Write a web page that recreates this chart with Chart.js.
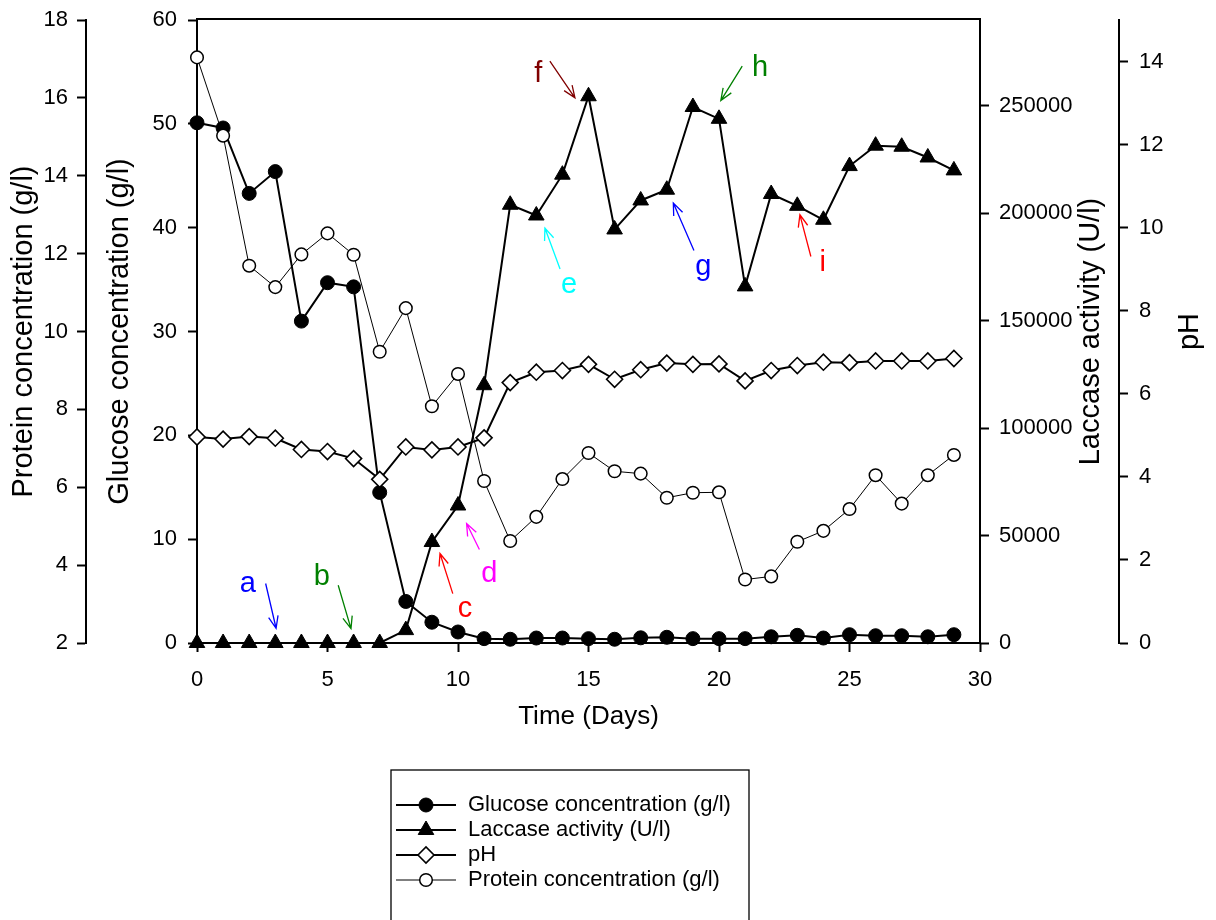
<!DOCTYPE html>
<html>
<head>
<meta charset="utf-8">
<title>Glucose, laccase, pH and protein over time</title>
<script src="https://cdn.jsdelivr.net/npm/chart.js@4.4.1/dist/chart.umd.min.js"></script>
<style>
  html, body { margin: 0; padding: 0; background: #ffffff; }
  canvas { display: block; }
</style>
</head>
<body>
<canvas id="chart" width="1216" height="920"></canvas>
<script>
// Sampling days
const days = [0, 1, 2, 3, 4, 5, 6, 7, 8, 9, 10, 11, 12, 13, 14, 15, 16, 17, 18, 19, 20, 21, 22, 23, 24, 25, 26, 27, 28, 29];

// Glucose concentration (g/l)
const glucose = [50.1, 49.6, 43.3, 45.4, 31.0, 34.7, 34.3, 14.5, 4.0, 2.0, 1.06, 0.42, 0.36, 0.48, 0.48,
                 0.42, 0.36, 0.5, 0.55, 0.42, 0.42, 0.42, 0.6, 0.74, 0.48, 0.8, 0.7, 0.7, 0.6, 0.8];

// Laccase activity (U/l)
const laccase = [0, 0, 0, 0, 0, 0, 0, 0, 6000, 47000, 64000, 120000, 204000, 199000, 218000,
                 254500, 192500, 206000, 211000, 249500, 244000, 166000, 209000, 203500, 197000,
                 222000, 231500, 231000, 226000, 220000];

// pH
const ph = [4.96, 4.91, 4.97, 4.93, 4.66, 4.61, 4.44, 3.94, 4.72, 4.65, 4.72, 4.94, 6.27, 6.52, 6.56,
            6.71, 6.35, 6.58, 6.74, 6.71, 6.72, 6.31, 6.56, 6.68, 6.76, 6.75, 6.79, 6.79, 6.79, 6.85];

// Protein concentration (g/l)
const protein = [17.04, 15.03, 11.69, 11.14, 11.98, 12.52, 11.97, 9.48, 10.6, 8.08, 8.91, 6.16, 4.62, 5.24, 6.21,
                 6.88, 6.41, 6.35, 5.73, 5.86, 5.87, 3.63, 3.71, 4.6, 4.88, 5.44, 6.31, 5.58, 6.31, 6.83];

// Tick values for each axis
const dayTicks = [0, 5, 10, 15, 20, 25, 30];
const glucoseTicks = [0, 10, 20, 30, 40, 50, 60];
const proteinTicks = [2, 4, 6, 8, 10, 12, 14, 16, 18];
const laccaseTicks = [0, 50000, 100000, 150000, 200000, 250000];
const phTicks = [0, 2, 4, 6, 8, 10, 12, 14];

// Lettered arrows, placed in (day, glucose g/l) coordinates
const notes = [
  { t: 'a', color: '#0000ff', at: [1.95, 4.89],   from: [2.63, 5.73],   to: [3.03, 1.42] },
  { t: 'b', color: '#008000', at: [4.78, 5.56],   from: [5.41, 5.56],   to: [5.90, 1.39] },
  { t: 'c', color: '#ff0000', at: [10.27, 2.53],  from: [9.80, 4.76],   to: [9.31, 8.62] },
  { t: 'd', color: '#ff00ff', at: [11.20, 5.90],  from: [10.82, 9.01],  to: [10.33, 11.51] },
  { t: 'e', color: '#00ffff', at: [14.26, 33.72], from: [13.91, 36.01], to: [13.33, 39.96] },
  { t: 'f', color: '#800000', at: [13.08, 54.02], from: [13.52, 56.03], to: [14.48, 52.50] },
  { t: 'g', color: '#0000ff', at: [19.40, 35.46], from: [19.04, 37.80], to: [18.25, 42.37] },
  { t: 'h', color: '#008000', at: [21.57, 54.60], from: [20.89, 55.55], to: [20.07, 52.24] },
  { t: 'i', color: '#ff0000', at: [23.97, 35.80], from: [23.52, 37.22], to: [23.10, 41.24] }
];

const FONT = '"Liberation Sans", Arial, Helvetica, sans-serif';
Chart.defaults.font.family = FONT;
Chart.defaults.color = '#000000';

const series = vals => days.map((d, i) => ({ x: d, y: vals[i] }));
const useTicks = values => scale => { scale.ticks = values.map(v => ({ value: v })); };
const plain = v => String(v);
// Fixed axis box width; end labels may overhang the plotting area
const fixWidth = w => s => { s.width = w; s.paddingTop = 0; s.paddingBottom = 0; };

const axisBorder = { color: '#000000', width: 2 };
const axisGrid = { drawOnChartArea: false, drawTicks: true, tickLength: 9, tickWidth: 2, tickColor: '#000000' };
const tickFont = { size: 22 };

// Top edge of the plotting frame
const frameTop = {
  id: 'frameTop',
  beforeDatasetsDraw(chart) {
    const { ctx, chartArea } = chart;
    ctx.save();
    ctx.strokeStyle = '#000000';
    ctx.lineWidth = 2;
    ctx.beginPath();
    ctx.moveTo(chartArea.left - 1, chartArea.top - 1);
    ctx.lineTo(chartArea.right + 1, chartArea.top - 1);
    ctx.stroke();
    ctx.restore();
  }
};

// Right-hand axis titles, read bottom to top
const sideTitles = {
  id: 'sideTitles',
  afterDraw(chart, args, opts) {
    const ctx = chart.ctx;
    for (const item of opts.items) {
      const s = chart.scales[item.scale];
      ctx.save();
      ctx.translate(s.left + item.offset, (s.top + s.bottom) / 2);
      ctx.rotate(-Math.PI / 2);
      ctx.font = '29px ' + FONT;
      ctx.fillStyle = '#000000';
      ctx.textAlign = 'center';
      ctx.textBaseline = 'middle';
      ctx.fillText(s.options.title.text, 0, 0);
      ctx.restore();
    }
  }
};

// Lettered arrows
const letterArrows = {
  id: 'letterArrows',
  afterDatasetsDraw(chart, args, opts) {
    const ctx = chart.ctx;
    const sx = chart.scales.x, sy = chart.scales.yG;
    const px = p => [sx.getPixelForValue(p[0]), sy.getPixelForValue(p[1])];
    for (const n of opts.notes) {
      const [tx, ty] = px(n.at);
      const [x0, y0] = px(n.from);
      const [x1, y1] = px(n.to);
      ctx.save();
      ctx.strokeStyle = n.color;
      ctx.fillStyle = n.color;
      ctx.lineWidth = 1.3;
      ctx.beginPath();
      ctx.moveTo(x0, y0);
      ctx.lineTo(x1, y1);
      const ang = Math.atan2(y1 - y0, x1 - x0);
      const len = 13, spread = 0.38;
      ctx.moveTo(x1 - len * Math.cos(ang - spread), y1 - len * Math.sin(ang - spread));
      ctx.lineTo(x1, y1);
      ctx.lineTo(x1 - len * Math.cos(ang + spread), y1 - len * Math.sin(ang + spread));
      ctx.stroke();
      ctx.font = '29px ' + FONT;
      ctx.textAlign = 'center';
      ctx.textBaseline = 'alphabetic';
      ctx.fillText(n.t, tx, ty);
      ctx.restore();
    }
  }
};

// Boxed legend with line-and-marker samples
const boxLegend = {
  id: 'boxLegend',
  afterDraw(chart, args, opts) {
    const ctx = chart.ctx;
    ctx.save();
    ctx.strokeStyle = '#000000';
    ctx.lineWidth = 1.3;
    ctx.strokeRect(opts.left, opts.top, opts.width, opts.height);
    chart.data.datasets.forEach((ds, i) => {
      const y = opts.top + opts.firstRow + i * opts.rowGap;
      const x0 = opts.left + opts.lineStart, x1 = x0 + opts.lineLength;
      ctx.strokeStyle = ds.borderColor;
      ctx.lineWidth = ds.borderWidth;
      ctx.beginPath();
      ctx.moveTo(x0, y);
      ctx.lineTo(x1, y);
      ctx.stroke();
      ctx.fillStyle = ds.pointBackgroundColor;
      ctx.strokeStyle = ds.pointBorderColor;
      ctx.lineWidth = ds.pointBorderWidth;
      Chart.helpers.drawPoint(ctx, {
        pointStyle: ds.pointStyle, radius: ds.pointRadius, rotation: 0, borderWidth: ds.pointBorderWidth
      }, (x0 + x1) / 2, y);
      ctx.fillStyle = '#000000';
      ctx.font = '22px ' + FONT;
      ctx.textAlign = 'left';
      ctx.textBaseline = 'middle';
      ctx.fillText(ds.label, opts.left + opts.textStart, y);
    });
    ctx.restore();
  }
};

new Chart(document.getElementById('chart'), {
  type: 'line',
  data: {
    datasets: [
      {
        label: 'Glucose concentration (g/l)', data: series(glucose), yAxisID: 'yG', order: 3,
        borderColor: '#000000', borderWidth: 2, pointStyle: 'circle', pointRadius: 7,
        pointBackgroundColor: '#000000', pointBorderColor: '#000000', pointBorderWidth: 1, clip: false
      },
      {
        label: 'Laccase activity (U/l)', data: series(laccase), yAxisID: 'yL', order: 2,
        borderColor: '#000000', borderWidth: 2, pointStyle: 'triangle', pointRadius: 9,
        pointBackgroundColor: '#000000', pointBorderColor: '#000000', pointBorderWidth: 1, clip: false
      },
      {
        label: 'pH', data: series(ph), yAxisID: 'yH', order: 1,
        borderColor: '#000000', borderWidth: 2, pointStyle: 'rectRot', pointRadius: 8,
        pointBackgroundColor: '#ffffff', pointBorderColor: '#000000', pointBorderWidth: 1.6, clip: false
      },
      {
        label: 'Protein concentration (g/l)', data: series(protein), yAxisID: 'yP', order: 0,
        borderColor: '#000000', borderWidth: 1, pointStyle: 'circle', pointRadius: 6.3,
        pointBackgroundColor: '#ffffff', pointBorderColor: '#000000', pointBorderWidth: 1.5, clip: false
      }
    ]
  },
  options: {
    responsive: false,
    animation: false,
    events: [],
    layout: { padding: { top: 20, left: 0, right: 0, bottom: 188 } },
    elements: { line: { tension: 0 } },
    plugins: {
      legend: { display: false },
      tooltip: { enabled: false },
      sideTitles: { items: [{ scale: 'yL', offset: 111 }, { scale: 'yH', offset: 71 }] },
      letterArrows: { notes: notes },
      boxLegend: { left: 391, top: 770, width: 358, height: 170, firstRow: 35, rowGap: 25,
                   lineStart: 5, lineLength: 60, textStart: 77 }
    },
    scales: {
      x: {
        type: 'linear', position: 'bottom', min: 0, max: 30,
        afterBuildTicks: useTicks(dayTicks),
        afterFit: s => { s.height = 89; },
        border: axisBorder, grid: axisGrid,
        ticks: { font: tickFont, padding: 15, callback: plain, maxRotation: 0, autoSkip: false },
        title: { display: true, text: 'Time (Days)', font: { size: 26 }, padding: 0 }
      },
      yP: {
        type: 'linear', position: 'left', weight: 1, min: 2, max: 18,
        afterBuildTicks: useTicks(proteinTicks),
        afterFit: fixWidth(86),
        border: axisBorder, grid: axisGrid,
        ticks: { font: tickFont, padding: 9, callback: plain },
        title: { display: true, text: 'Protein concentration (g/l)', font: { size: 29 }, padding: { top: 7, bottom: 0 } }
      },
      yG: {
        type: 'linear', position: 'left', weight: 0, min: 0, max: 60,
        afterBuildTicks: useTicks(glucoseTicks),
        afterFit: fixWidth(111),
        border: axisBorder, grid: axisGrid,
        ticks: { font: tickFont, padding: 11, callback: plain },
        title: { display: true, text: 'Glucose concentration (g/l)', font: { size: 29 }, padding: { top: 17, bottom: 0 } }
      },
      yL: {
        type: 'linear', position: 'right', weight: 0, min: 0, max: 290000,
        afterBuildTicks: useTicks(laccaseTicks),
        afterFit: fixWidth(139),
        border: axisBorder, grid: axisGrid,
        ticks: { font: tickFont, padding: 10, callback: plain },
        title: { display: false, text: 'Laccase activity (U/l)' }
      },
      yH: {
        type: 'linear', position: 'right', weight: 1, min: 0, max: 15,
        afterBuildTicks: useTicks(phTicks),
        afterFit: fixWidth(97),
        border: axisBorder, grid: axisGrid,
        ticks: { font: tickFont, padding: 11, callback: plain },
        title: { display: false, text: 'pH' }
      }
    }
  },
  plugins: [frameTop, sideTitles, letterArrows, boxLegend]
});
</script>
</body>
</html>
